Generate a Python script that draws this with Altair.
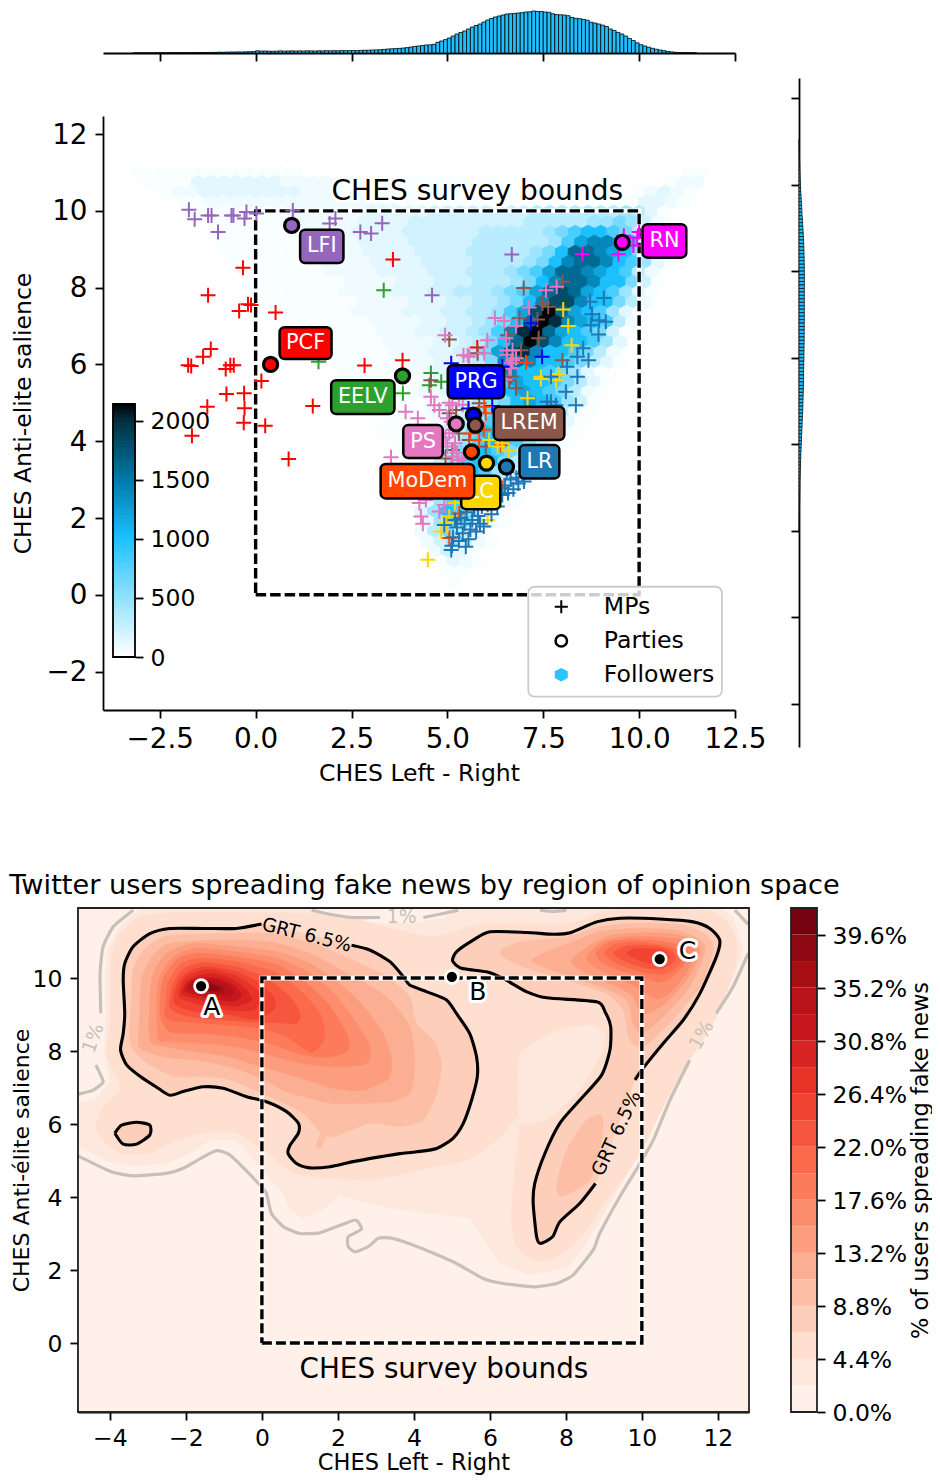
import altair as alt
import numpy as np
import pandas as pd

W, H = 924, 1468
FONT = "DejaVu Sans"

# ---------- panel scales ----------
MX_DOM, MX_RNG = [-3.98, 12.5], [95, 727]
MY_DOM, MY_RNG = [-3.0, 12.47], [702, 108]
RY_DOM, RY_RNG = [-2.993, 12.462], [739, 70]
RX_DOM, RX_RNG = [0, 10], [791, 801]
TY_DOM, TY_RNG = [0, 42], [45, 3]
BX_DOM, BX_RNG = [-4.84, 12.82], [70, 741]
BY_DOM, BY_RNG = [-1.89, 11.92], [1404, 900]


def sc(dom, rng):
    return alt.Scale(domain=dom, range=rng, nice=False, zero=False)


def qx(f, dom, rng, axis=None):
    return alt.X(f, type="quantitative", scale=sc(dom, rng), axis=axis, title=None if axis is None else axis.to_dict().get("title"))


def qy(f, dom, rng, axis=None):
    return alt.Y(f, type="quantitative", scale=sc(dom, rng), axis=axis, title=None if axis is None else axis.to_dict().get("title"))


def mx(f, axis=None):
    return qx(f, MX_DOM, MX_RNG, axis)


def my(f, axis=None):
    return qy(f, MY_DOM, MY_RNG, axis)


def bx(f, axis=None):
    return qx(f, BX_DOM, BX_RNG, axis)


def by(f, axis=None):
    return qy(f, BY_DOM, BY_RNG, axis)


def ax(**kw):
    base = dict(domainColor="black", tickColor="black", labelColor="black", titleColor="black",
                labelFont=FONT, titleFont=FONT, grid=False, labelOverlap=False, labelFlush=False,
                titleFontWeight="normal", domainWidth=1.8, tickWidth=1.8, tickSize=8, labelPadding=6)
    base.update(kw)
    return alt.Axis(**base)


# ---------- top histogram of followers (bins of 0.1 from -4.0) ----------
TOP_HIST = [0, 0, 0, 0, 0, 0, 0, 0, .1, .1,
            .1, .1, .1, .1, .2, .2, .2, .2, .3, .3,
            .3, .4, .3, .4, .5, .4, .5, .5, .6, .6,
            .8, .7, .9, 1, 1, 1.1, 1, 1.2, 1.3, 1.4,
            2.2, 1.9, 2, 1.8, 1.7, 1.8, 2.1, 1.9, 2, 2.1,
            2, 2.1, 2, 2.2, 2.1, 2, 2.2, 2.1, 2.3, 2.2,
            2.3, 2.2, 2.4, 2.3, 2.4, 2.5, 2.4, 2.6, 2.7, 2.8,
            3, 3.1, 3.3, 3.6, 4, 4.2, 4.4, 4.6, 5, 5.4,
            6, 6.6, 7, 7.5, 8, 8.2, 8.6, 10.7, 12, 13.4,
            15, 17, 19, 20.5, 22, 24, 26, 27.5, 29, 31,
            33, 34.5, 36, 37, 38, 39, 39.3, 39.6, 40, 40.3,
            41, 41.2, 42, 41.6, 41.5, 41, 40.7, 39.2, 38.4, 38.2,
            38, 37.3, 35.5, 34.7, 34.3, 33.6, 32.8, 30.7, 30, 29,
            27.8, 26.5, 24, 22.5, 20.6, 19, 17, 14.5, 12.4, 10.2,
            8.3, 7, 5.8, 4.7, 3.8, 3, 2.3, 1.6, 1.1, .7,
            .5, .4, .3, .2, .1]
# ---------- right histogram (bins of 0.08 going down from 11.04) ----------
RIGHT_HIST = [.2, .2, .3, .3, .4, .5, .6, .7, .8,
              1, 1.1, 1.2, 1.4, 1.5, 1.7,
              1.9, 2.1, 2.3, 2.5, 2.7, 2.9, 3, 3.3, 3.5,
              3.7, 3.9, 4.1, 4.3, 4.5, 4.6, 4.8, 4.9, 5.0,
              5.1, 5.2, 5.2, 5.3, 5.3, 5.4, 5.4, 5.4, 5.4, 5.4, 5.3,
              5.4, 5.3, 5.4, 5.3, 5.3, 5.3, 5.4, 5.3, 5.3, 5.2, 5.3, 5.2, 5.2, 5.2,
              5.1, 5.1, 5, 5, 4.9, 4.9, 4.8, 4.7, 4.7, 4.6, 4.6, 4.5, 4.5, 4.4,
              4.3, 4.2, 4.1, 4, 3.9, 3.8, 3.7, 3.5, 3.4,
              3.2, 3.1, 2.9, 2.8, 2.6, 2.5, 2.4,
              2.2, 2.1, 1.9, 1.8, 1.7, 1.5, 1.4,
              1.3, 1.2, 1.1, 1, .9, .9, .8, .7, .7,
              .6, .5, .5, .4, .3, .3, .2, .2, .1]

# ---------- hexbin: (y, first column, level codes); column step 1/3 from x=-4 ----------
HEX_LEVELS = {"1": 25, "2": 70, "3": 130, "4": 210, "5": 310, "6": 430, "7": 600, "8": 800, "9": 1000,
              "a": 1200, "b": 1400, "c": 1600, "d": 1800, "e": 2000, "f": 2130}
HEX_ROWS = [
    (0, 11.00, 3, "1111111111111"), (0, 11.00, 46, "11"),
    (1, 10.74, 3, "1111 3333333 22222 111111111111"), (1, 10.74, 44, "122"),
    (2, 10.48, 5, "1 22 33333333 222 11111111"), (2, 10.48, 42, "12321"),
    (3, 10.22, 6, "11 22222 22222 22222 111111 1111111111111 332 1"),
    (4, 9.96, 7, "11111111 222222 33333 44444444 5555555 6 5 3 1"),
    (5, 9.70, 8, "1111111 22222 3333 4444444 4455 555 667 6 4 2 1"),
    (6, 9.44, 9, "1111111 2222 3333 444444 55555 6 7 899 8 7 5 3 1"),
    (7, 9.18, 9, "1111111 2222 3333 44444 555555 6 8 a bb a 9 7 4 2"),
    (8, 8.92, 10, "111111 22222 3333 4444 55555 6 7 9 ccb a 9 7 4 1"),
    (9, 8.66, 10, "1111111 2222 3333 4444 5555 6 7 9 b cc b 9 8 6 3 1"),
    (10, 8.40, 11, "1111111 2222 3333 444 555 6 7 8 a ccb a 9 8 5 2"),
    (11, 8.14, 11, "11111111 2222 333 444 555 6 7 9 bcc b 99 7 4 1"),
    (12, 7.88, 12, "1111111 2222 333 44 555 6 7 8 a cd c a 98 6 3 1"),
    (13, 7.62, 13, "1111111 2222 333 44 55 6 7 9 b dd b 99 7 5 2"),
    (14, 7.36, 14, "111111 2222 333 44 55 6 8 a d f c a 98 6 3 1"),
    (15, 7.10, 15, "111111 2222 33 44 5 6 7 9 c f e b a 9 8 5 2"),
    (16, 6.84, 15, "1111111 222 33 44 5 6 8 b e f c a 98 7 4 1"),
    (17, 6.58, 16, "111111 2222 33 4 5 7 9 c f d b 9 98 6 3"),
    (18, 6.32, 17, "111111 222 33 4 5 7 a d e b 99 8 7 5 2"),
    (19, 6.06, 18, "111111 22 33 45 7 b c b 99 8 7 5 3 1"),
    (20, 5.80, 19, "11111 22 33 4 6 9 b b 9 98 7 6 3 1"),
    (21, 5.54, 19, "111111 22 3 4 5 6 8 a 9 9 8 7 5 3 1"),
    (22, 5.28, 20, "11111 22 3 4 5 6 7 9 a 9 8 7 5 2 1"),
    (23, 5.02, 21, "11111 2 3 4 5 6 7 9 a 9 8 6 4 1"),
    (24, 4.76, 21, "11111 2 3 4 5 7 9 9 9 8 7 5 2 1"),
    (25, 4.50, 22, "1111 2 3 5 6 8 9 9 8 7 5 3 1"),
    (26, 4.24, 22, "1111 2 4 5 7 9 9 8 7 6 4 2 1"),
    (27, 3.98, 23, "111 3 4 6 8 9 9 8 6 4 2 1"),
    (28, 3.72, 23, "111 3 5 7 9 9 8 7 5 3 1"),
    (29, 3.46, 24, "1 2 4 6 8 9 9 7 5 3 1"),
    (30, 3.20, 24, "1 3 4 7 9 9 8 6 4 2 1"),
    (31, 2.94, 24, "1 3 5 7 9 9 7 5 3 1"),
    (32, 2.68, 24, "2 3 5 8 9 8 6 3 1"),
    (33, 2.42, 24, "1 3 6 8 9 7 5 2 1"),
    (34, 2.16, 25, "3 6 9 8 6 3 1"),
    (35, 1.90, 25, "3 6 8 7 4 2 1"),
    (36, 1.64, 25, "2 5 7 5 3 1"),
    (37, 1.38, 25, "2 4 6 4 2 1"),
    (38, 1.12, 26, "2 4 3 1"),
    (39, 0.86, 26, "1 3 2 1"),
    (40, 0.60, 27, "11"),
    (41, 0.34, 27, "1"),
]
CMAP_DOM = [0, 500, 1000, 1500, 2000, 2140]
CMAP_RNG = ["#ffffff", "#8fe1ff", "#1cc0ff", "#0079a8", "#032e3f", "#000000"]

# ---------- MPs ----------
MP = {
    "#9467bd": [(-1.74, 10.03), (-1.59, 9.78), (-1.24, 9.88), (-1.15, 9.88), (-.63, 9.88), (-.58, 9.88), (-.98, 9.45),
                (-.24, 9.97), (-.29, 9.8), (.02, 9.93), (.97, 10.01), (1.93, 9.67), (2.08, 9.8), (2.73, 9.45),
                (3.01, 9.41), (3.3, 9.68), (6.68, 8.86), (4.6, 7.8)],
    "#ff0000": [(-.33, 8.52), (-1.24, 7.8), (-.43, 7.39), (-.2, 7.57), (-.12, 7.55), (.52, 7.35), (-1.17, 6.4),
                (-1.37, 6.2), (-1.76, 5.98), (-1.68, 5.96), (-.78, 5.88), (-.66, 5.98), (-.57, 5.98), (.15, 5.57),
                (-.76, 5.23), (-.3, 5.25), (-1.26, 4.9), (-.29, 4.86), (-.31, 4.48), (.25, 4.4), (-1.66, 4.14),
                (1.49, 4.92), (2.84, 5.97), (3.58, 8.73), (.86, 3.54), (3.83, 6.11), (5.78, 6.44)],
    "#2ca02c": [(3.34, 7.93), (1.64, 6.07), (3.84, 5.25), (4.57, 5.78), (4.84, 5.55), (4.53, 5.46)],
    "#8c564b": [(5.05, 6.65), (6.99, 7.99), (8.0, 8.15), (7.48, 7.59), (7.63, 7.5), (6.88, 7.2), (7.35, 7.17),
                (7.38, 6.68), (6.57, 6.76), (6.92, 6.37), (5.79, 6.29), (8.0, 6.11), (6.66, 5.68), (4.57, 5.59),
                (6.79, 5.38), (6.61, 5.59), (5.13, 3.77), (5.05, 4.73), (5.23, 4.81), (6.0, 3.86), (5.83, 4.99),
                (5.57, 4.03), (5.3, 4.2), (4.95, 3.55)],
    "#e377c2": [(4.94, 6.76), (6.04, 6.63), (6.24, 7.21), (6.48, 7.13), (6.79, 7.0), (7.13, 7.48), (7.57, 7.93),
                (7.85, 8.02), (5.42, 6.24), (5.57, 6.2), (5.96, 6.29), (6.53, 6.68), (6.55, 6.36), (6.7, 6.37),
                (6.79, 6.16), (6.66, 6.03), (6.61, 5.9), (3.91, 4.77), (4.23, 4.6), (3.53, 3.58), (4.57, 5.16),
                (4.66, 4.94), (4.79, 4.81), (4.27, 2.39), (4.44, 2.47), (4.31, 2.04), (4.36, 1.85), (4.79, 2.17),
                (4.92, 2.34), (5.05, 4.21), (5.0, 3.86), (5.14, 3.6), (5.27, 3.51), (5.1, 4.51), (5.53, 6.24),
                (6.7, 6.11), (6.66, 5.9), (5.13, 4.94), (5.05, 5.0), (5.0, 4.6), (5.15, 4.3), (5.2, 3.95),
                (4.95, 4.1), (5.25, 3.7), (5.4, 3.55), (5.3, 5.1), (5.4, 4.95), (5.1, 3.3), (6.5, 5.6), (6.55, 6.25)],
    "#0000ff": [(7.18, 7.07), (7.47, 6.2), (5.1, 6.03), (6.43, 5.94), (6.17, 4.92), (5.55, 4.85)],
    "#ff4500": [(7.05, 6.05), (5.96, 4.9), (5.83, 4.03), (6.4, 3.9), (5.05, 1.48), (5.31, 2.12), (6.0, 4.73),
                (6.44, 2.78), (5.6, 4.2), (5.95, 4.3)],
    "#ffd700": [(8.02, 7.43), (8.15, 7.0), (8.24, 6.5), (7.44, 5.68), (7.92, 5.75), (7.44, 5.62), (7.83, 5.59),
                (7.09, 5.12), (4.49, .91), (4.84, 1.65), (4.97, 1.87), (6.05, 1.95), (6.31, 3.86), (6.09, 4.03),
                (6.43, 3.95), (5.05, 2.04), (6.6, 3.75), (5.2, 2.4)],
    "#1f77b4": [(8.72, 7.63), (9.08, 7.73), (8.77, 7.31), (8.74, 7.02), (8.96, 7.15), (9.13, 7.11), (8.94, 6.78),
                (8.54, 6.42), (8.39, 6.2), (8.68, 6.11), (8.12, 5.94), (8.39, 5.68), (7.7, 5.68), (8.09, 5.29),
                (8.35, 4.94), (7.7, 5.03), (7.6, 5.03), (7.83, 4.94), (5.1, 1.17), (4.92, 1.82), (5.15, 1.5),
                (5.25, 1.75), (5.3, 1.4), (5.35, 2.0), (5.4, 1.6), (5.45, 1.85), (5.5, 2.15), (5.55, 1.45),
                (5.6, 1.7), (5.65, 1.95), (5.7, 2.25), (5.75, 1.65), (5.8, 2.05), (5.85, 1.85), (5.9, 2.3),
                (5.2, 1.95), (5.12, 1.28), (5.48, 1.25), (5.95, 1.78), (6.05, 2.35), (6.15, 2.1), (6.2, 2.5),
                (6.3, 2.3), (6.43, 2.6), (6.5, 2.85), (6.58, 2.65), (6.65, 3.0), (6.72, 2.75), (6.8, 3.05),
                (6.85, 2.9), (6.95, 3.15), (7.0, 2.95), (7.05, 3.3), (6.55, 3.2)],
    "#ff00ff": [(9.6, 9.35), (9.95, 9.3), (8.52, 8.87), (9.46, 8.87), (10.0, 9.45), (9.85, 9.1)],
}
PARTY_X = [.39, .94, 3.83, 5.23, 5.68, 5.73, 5.63, 6.02, 6.54, 9.56]
PARTY_Y = [6.0, 9.62, 5.7, 4.45, 4.68, 4.42, 3.72, 3.43, 3.33, 9.18]
PARTY_C = ["#ff0000", "#9467bd", "#2ca02c", "#e377c2", "#0000ff", "#8c564b", "#ff4500", "#ffd700", "#1f77b4", "#ff00ff"]
LABELS = [  # text, x0, x1, y0, y1, colour
    ("LC", 5.36, 6.38, 2.23, 3.10, "#ffd700"),
    ("PCF", .625, 1.98, 6.14, 6.97, "#ff0000"),
    ("LFI", 1.16, 2.29, 8.64, 9.51, "#9467bd"),
    ("EELV", 1.97, 3.62, 4.71, 5.59, "#2ca02c"),
    ("PS", 3.85, 4.88, 3.56, 4.42, "#e377c2"),
    ("PRG", 5.01, 6.48, 5.12, 5.98, "#0000ff"),
    ("LREM", 6.21, 8.05, 4.03, 4.90, "#8c564b"),
    ("LR", 6.88, 7.92, 3.03, 3.90, "#1f77b4"),
    ("MoDem", 3.26, 5.70, 2.51, 3.41, "#ff4500"),
    ("RN", 10.09, 11.23, 8.78, 9.65, "#ff00ff"),
]
BOUND_X = [0, 10, 10, 0, 0]
BOUND_Y = [0, 0, 10, 10, 0]

# ---------- lower panel: filled contour outlines ----------
GRT_MAIN = [(2.36, 10.9), (2.84, 10.77), (3.37, 10.45), (3.72, 10.04), (3.89, 9.81), (4.33, 9.63), (4.86, 9.4),
            (5.12, 9.03), (5.47, 8.48), (5.65, 7.84), (5.67, 7.3), (5.52, 6.66), (5.3, 6.02), (5.03, 5.61), (4.6, 5.33),
            (4.07, 5.24), (3.63, 5.19), (3.1, 5.1), (2.4, 4.97), (1.79, 4.83), (1.26, 4.8), (.91, 4.92), (.69, 5.19),
            (.74, 5.42), (.96, 5.75), (.96, 6.02), (.65, 6.34), (.12, 6.61), (-.4, 6.75), (-1.02, 6.98), (-1.54, 7.02),
            (-2.07, 6.89), (-2.42, 6.79), (-2.73, 6.98), (-3.2, 7.3), (-3.56, 7.62), (-3.72, 8.03), (-3.65, 8.48),
            (-3.61, 9.03), (-3.65, 9.95), (-3.61, 10.4), (-3.39, 10.86), (-2.95, 11.22), (-2.42, 11.36), (-1.54, 11.36),
            (-.67, 11.36), (-.01, 11.48)]
GRT_BLOB = [(-3.87, 5.75), (-3.69, 5.97), (-3.3, 6.05), (-2.95, 5.97), (-2.95, 5.7), (-3.3, 5.45), (-3.65, 5.45), (-3.87, 5.75)]
GRT_RIGHT = [(9.82, 7.21), (10.03, 7.53), (10.56, 8.21), (11.09, 8.85), (11.53, 9.58), (11.96, 10.58), (12.05, 11.04),
             (11.79, 11.36), (11.35, 11.54), (10.47, 11.62), (9.42, 11.64), (8.81, 11.54), (8.11, 11.24), (7.67, 11.2),
             (6.96, 11.25), (6.0, 11.27), (5.56, 11.04), (5.12, 10.72), (5.02, 10.47), (5.25, 10.27), (5.91, 10.17),
             (6.35, 9.99), (6.96, 9.63), (7.49, 9.46), (8.81, 9.35), (9.03, 9.08), (9.18, 8.67), (9.16, 8.03), (8.94, 7.34),
             (8.37, 6.66), (7.84, 6.02), (7.45, 5.2), (7.18, 4.37), (7.14, 3.83), (7.23, 2.91), (7.33, 2.73), (7.65, 2.91),
             (7.84, 3.32), (8.37, 3.83), (8.78, 4.37)]
P22 = [(-3.2, 11.92), (-3.75, 11.4), (-4.05, 10.8), (-4.12, 10.0), (-4.1, 9), (-4.15, 8), (-4.0, 7.15), (-4.35, 6.7),
       (-4.84, 6.55), (-4.84, 5.4), (-4.0, 4.95), (-3.4, 4.85), (-2.5, 4.92), (-1.9, 5.2), (-1.37, 5.56), (-.67, 5.56),
       (-.14, 4.92), (.56, 4.1), (.74, 3.65), (1.09, 3.42), (1.61, 3.65), (2.05, 4.05), (3.37, 3.69), (5.47, 3.42),
       (5.91, 2.73), (6.26, 2.18), (7.05, 1.86), (8.02, 2.05), (8.54, 2.73), (9.07, 3.67), (9.77, 4.92), (10.39, 6.11),
       (10.91, 7.3), (11.7, 8.67), (12.4, 9.95), (12.67, 10.77), (12.4, 11.68), (12.05, 11.92), (8.2, 11.92), (7.7, 11.72),
       (7.2, 11.92), (5.3, 11.92), (4.8, 11.65), (4, 11.5), (2.4, 11.5), (1.7, 11.65), (1.2, 11.92)]
P44 = [(-4.31, 6.16), (-4.35, 5.84), (-4.09, 5.47), (-3.65, 5.19), (-3.03, 5.19), (-2.33, 5.52), (-1.54, 5.75), (-.67, 5.75),
       (.21, 5.19), (.56, 4.83), (1.09, 4.6), (2.84, 4.47), (4.16, 4.74), (4.51, 4.83), (5.39, 5.01), (6.18, 5.56), (6.79, 6.2),
       (6.66, 4.83), (6.57, 3.46), (6.7, 2.64), (7.32, 2.23), (7.93, 2.46), (8.54, 3.1), (8.89, 3.64), (9.95, 5.19),
       (10.47, 6.29), (11.09, 7.48), (11.96, 8.94), (12.49, 10.49), (12.4, 11.31), (11.96, 11.77), (11.35, 11.88), (9.25, 11.88),
       (8.11, 11.5), (6.96, 11.48), (5.91, 11.5), (5.12, 11.31), (4.51, 11.13), (3.63, 11.31), (2.4, 11.63), (1.35, 11.77),
       (.03, 11.79), (-2.42, 11.79), (-3.2, 11.68), (-3.74, 11.22), (-3.96, 10.58), (-4.0, 9.49), (-4.0, 8.67), (-4.09, 7.94),
       (-3.87, 7.39), (-3.74, 6.93), (-4.18, 6.48)]
HOLE = [(6.86, 8.0), (7.75, 8.55), (8.62, 8.7), (9.0, 8.5), (8.95, 8.0), (8.4, 7.0), (7.6, 6.2), (6.85, 6.0), (6.75, 6.6), (6.75, 7.3)]
L88A = [(-3.49, 8.48), (-3.43, 9.4), (-3.39, 10.22), (-3.08, 10.81), (-2.51, 11.15), (-1.11, 11.22), (.21, 11.22), (1.35, 10.95),
        (2.4, 10.49), (3.28, 10.04), (3.89, 9.49), (4.07, 8.76), (4.51, 8.3), (4.73, 7.66), (4.6, 6.84), (4.25, 6.11), (3.63, 5.93),
        (2.84, 6.02), (1.88, 5.65), (1.53, 5.79), (1.09, 6.29), (.21, 6.75), (-.84, 7.21), (-1.54, 7.3), (-2.25, 7.3), (-2.95, 7.62), (-3.39, 8.03)]
L88B = [(7.75, 4.28), (8.02, 5.29), (8.54, 6.11), (8.94, 6.25), (8.97, 5.75), (8.81, 5.01), (8.63, 4.47), (7.93, 4.01)]
L88C = [(6.31, 10.77), (6.79, 10.99), (8.02, 11.13), (8.89, 11.4), (9.77, 11.5), (11.09, 11.45), (11.7, 11.18), (11.88, 10.77),
        (11.53, 9.76), (10.65, 8.67), (10.03, 8.12), (9.68, 8.3), (9.51, 9.12), (9.07, 9.58), (8.02, 9.95), (6.96, 10.27), (6.35, 10.58)]
L88D = [(1.42, 5.4), (1.55, 5.72), (1.68, 5.65), (1.55, 5.35)]
L110A = [(-3.25, 8.39), (-3.21, 9.01), (-3.17, 9.95), (-2.9, 10.58), (-2.42, 10.95), (-1.11, 11.04), (.21, 10.99), (1.26, 10.68),
         (2.23, 10.13), (3.28, 9.49), (3.89, 8.67), (4.03, 7.66), (3.89, 6.84), (3.37, 6.61), (2.67, 6.57), (1.79, 6.57), (.65, 6.89),
         (-.01, 7.25), (-.84, 7.57), (-1.72, 7.75), (-2.6, 7.84), (-3.21, 8.07)]
L110B = [(7.1, 10.49), (7.58, 10.77), (8.19, 10.99), (8.89, 11.27), (9.77, 11.36), (10.91, 11.31), (11.53, 11.04), (11.66, 10.72),
         (11.26, 9.76), (10.56, 8.94), (9.99, 8.48), (9.77, 8.76), (9.6, 9.4), (8.98, 9.74), (8.02, 10.08), (7.4, 10.31)]
L132A = [(-2.95, 8.3), (-2.95, 9.4), (-2.86, 10.13), (-2.51, 10.68), (-1.81, 10.95), (-.67, 10.86), (.39, 10.72), (1.26, 10.4),
         (2.05, 9.85), (2.67, 9.23), (3.19, 8.48), (3.41, 7.75), (3.32, 7.24), (2.67, 6.93), (1.88, 6.98), (.91, 7.3), (-.01, 7.57),
         (-.84, 7.84), (-1.72, 7.98), (-2.51, 8.12)]
L132B = [(8.15, 10.49), (8.63, 10.9), (9.25, 11.18), (10.12, 11.24), (11.0, 11.18), (11.44, 10.95), (11.53, 10.68), (11.18, 9.95),
         (10.56, 9.26), (10.03, 9.03), (9.73, 9.53), (9.07, 9.9), (8.37, 10.22)]
L154A = [(-2.73, 8.35), (-2.77, 9.4), (-2.68, 10.04), (-2.33, 10.58), (-1.72, 10.81), (-.67, 10.72), (.39, 10.54), (1.26, 10.13),
         (1.97, 9.49), (2.49, 8.76), (2.84, 8.12), (2.76, 7.66), (1.97, 7.57), (1.09, 7.66), (.21, 7.89), (-.67, 8.12), (-1.54, 8.21), (-2.51, 8.26)]
L154B = [(8.54, 10.58), (8.89, 10.95), (9.42, 11.11), (10.3, 11.13), (11.09, 11.04), (11.39, 10.77), (11.26, 10.31), (10.82, 9.67),
         (10.39, 9.44), (9.77, 9.81), (9.16, 10.08), (8.68, 10.36)]
L176A = [(-2.68, 9.03), (-2.6, 9.95), (-2.25, 10.49), (-1.72, 10.68), (-.67, 10.58), (.39, 10.36), (1.18, 9.85), (1.79, 9.23), (2.23, 8.48),
         (2.27, 8.03), (1.79, 7.84), (1.09, 7.89), (.21, 8.21), (-.67, 8.39), (-1.54, 8.48), (-2.42, 8.53)]
L176B = [(8.81, 10.72), (9.16, 10.99), (9.77, 11.06), (10.65, 10.99), (11.18, 10.81), (11.13, 10.4), (10.74, 9.99), (10.39, 9.9), (9.77, 10.11),
         (9.25, 10.27), (8.89, 10.49)]
L198A = [(-2.55, 9.01), (-2.47, 9.85), (-2.16, 10.36), (-1.63, 10.54), (-.67, 10.45), (.3, 10.17), (1.0, 9.67), (1.53, 9.03), (1.66, 8.48),
         (1.53, 8.12), (1.26, 7.98), (.65, 8.39), (.03, 8.62), (-.84, 8.71), (-1.72, 8.78), (-2.33, 8.83)]
L198B = [(9.03, 10.68), (9.25, 10.9), (9.77, 10.99), (10.56, 10.9), (11.0, 10.72), (11.0, 10.4), (10.65, 10.13), (10.3, 10.11), (9.68, 10.27), (9.25, 10.45)]
L220A = [(-2.42, 9.21), (-2.33, 9.85), (-2.03, 10.27), (-1.54, 10.42), (-.67, 10.31), (.12, 9.99), (.74, 9.49), (1.0, 9.03), (.91, 8.76), (.39, 8.78),
         (-.32, 8.8), (-1.19, 8.87), (-2.07, 8.99)]
L220B = [(9.25, 10.68), (9.6, 10.88), (10.39, 10.88), (10.82, 10.72), (10.87, 10.49), (10.56, 10.27), (10.12, 10.27), (9.6, 10.45)]
L242A = [(-2.33, 9.4), (-2.2, 9.9), (-1.94, 10.17), (-1.46, 10.31), (-.67, 10.17), (-.05, 9.85), (.3, 9.49), (.34, 9.17), (-.14, 8.87), (-.84, 8.99),
         (-1.72, 9.08), (-2.16, 9.21)]
L242B = [(9.6, 10.68), (9.86, 10.81), (10.56, 10.77), (10.74, 10.54), (10.47, 10.4), (10.03, 10.45)]
L264 = [(-2.2, 9.53), (-2.07, 9.95), (-1.81, 10.13), (-1.37, 10.24), (-.67, 10.05), (-.18, 9.72), (-.01, 9.4), (-.23, 9.12), (-.84, 9.12), (-1.54, 9.26), (-2.03, 9.4)]
L286 = [(-2.11, 9.58), (-1.98, 9.9), (-1.72, 10.05), (-1.28, 10.13), (-.75, 9.95), (-.4, 9.67), (-.27, 9.4), (-.67, 9.23), (-1.28, 9.31), (-1.81, 9.47)]
L308 = [(-2.03, 9.67), (-1.89, 9.9), (-1.63, 10.0), (-1.19, 10.0), (-.75, 9.81), (-.53, 9.53), (-.75, 9.37), (-1.28, 9.44), (-1.76, 9.55)]
L330 = [(-1.94, 9.74), (-1.81, 9.92), (-1.46, 9.96), (-1.11, 9.93), (-.8, 9.72), (-.8, 9.51), (-1.28, 9.53), (-1.72, 9.65)]
L352 = [(-1.88, 9.78), (-1.72, 9.88), (-1.37, 9.9), (-1.06, 9.78), (-1.0, 9.6), (-1.28, 9.62), (-1.68, 9.69)]
L374 = [(-1.81, 9.78), (-1.59, 9.85), (-1.28, 9.81), (-1.11, 9.69), (-1.37, 9.65), (-1.68, 9.72)]

BG = "#fff1ea"
BAND_COLORS = [BG, "#fee8dd", "#fedfd0", "#fdcfbb", "#fcbfa6", "#fcae92", "#fc9d7e", "#fc8d6d", "#fb7b5b", "#fb6a4a",
               "#f6563d", "#f14331", "#e63328", "#d72322", "#c7171c", "#b71319", "#a70f15", "#8e0912", "#74030f"]
FILLS = [
    (P44, 2), (HOLE, 1), (GRT_MAIN, 3), (GRT_BLOB, 3), (GRT_RIGHT, 3),
    (L88A, 4), (L88B, 4), (L88C, 4), (L88D, 4), (L110A, 5), (L110B, 5), (L132A, 6), (L132B, 6), (L154A, 7), (L154B, 7),
    (L176A, 8), (L176B, 8), (L198A, 9), (L198B, 9), (L220A, 10), (L220B, 10), (L242A, 11), (L242B, 11), (L264, 12), (L286, 13),
    (L308, 14), (L330, 15), (L352, 16), (L374, 17),
]

GREY_SEGS = [
    [(-3.39, 11.86), (-3.91, 11.41), (-4.18, 10.86), (-4.26, 10.13), (-4.24, 9.03)],
    [(-4.37, 7.62), (-4.18, 7.16), (-4.44, 6.93), (-4.83, 6.82)],
    [(1.31, 11.86), (1.79, 11.75), (2.4, 11.66), (3.11, 11.66)],
    [(4.25, 11.66), (4.77, 11.77), (5.17, 11.86)],
    [(7.32, 11.86), (7.67, 11.82), (8.02, 11.86)],
    [(12.45, 11.86), (12.8, 11.47)],
    [(12.8, 10.68), (12.4, 9.76), (11.96, 9.03)],
    [(11.26, 7.75), (10.74, 6.66), (10.3, 5.56), (9.95, 4.92), (9.42, 4.01), (8.89, 3.0), (8.72, 2.55), (8.19, 1.86), (7.75, 1.63),
     (7.14, 1.54), (6.35, 1.63), (5.82, 1.77), (5.12, 2.18), (4.42, 2.5), (3.72, 2.78), (3.37, 2.88), (3.06, 2.87), (2.8, 2.64),
     (2.45, 2.5), (2.27, 2.64), (2.27, 2.91), (2.62, 3.12), (2.47, 3.37), (1.97, 3.19), (1.53, 3.02), (1.0, 3.0), (.56, 3.19),
     (.25, 3.55), (.12, 4.1), (-.05, 4.33), (-.84, 5.15), (-1.19, 5.27), (-1.54, 5.1), (-2.07, 4.79), (-2.51, 4.65), (-3.39, 4.58),
     (-3.96, 4.69), (-4.83, 5.12)],
]
ONE_PCT = [(3.68, 11.67, 0), (-4.44, 8.35, 290), (11.57, 8.44, 300)]
GRT_TXT = [(1.18, 11.18, 14), (9.33, 5.75, 295)]
POINTS_ABC = [(-1.6, 9.78), (5.0, 10.03), (10.47, 10.52)]
LETTERS = [("A", -1.32, 9.2), ("B", 5.68, 9.62), ("C", 11.2, 10.74)]
PCT_TICKS = [0, 4.4, 8.8, 13.2, 17.6, 22.0, 26.4, 30.8, 35.2, 39.6]

# ---------- build ----------
layers = []
CROSS = "M-1,0H1M0,-1V1"
HEXP = "M0,-1L0.97,-0.5L0.97,0.5L0,1L-0.97,0.5L-0.97,-0.5Z"

# top histogram
top = pd.DataFrame({"x0": -4 + 0.1 * np.arange(len(TOP_HIST)), "h": TOP_HIST})
top["x1"] = top.x0 + 0.1
top["b"] = 0
top = top[top.h > 0]
layers.append(alt.Chart(top).mark_rect(fill="#1fbfff", stroke="black", strokeWidth=0.8).encode(
    x=mx("x0", ax(values=[-2.5, 0, 2.5, 5, 7.5, 10, 12.5], labels=False, orient="bottom", offset=45 - H, title=None)),
    x2="x1",
    y=qy("h", TY_DOM, TY_RNG), y2="b"))

# right histogram
right = pd.DataFrame({"y0": 11.04 - 0.08 * np.arange(len(RIGHT_HIST)), "w": RIGHT_HIST})
right["y1"] = right.y0 - 0.08
right["b"] = 0
layers.append(alt.Chart(right).mark_rect(fill="#1fbfff", stroke="black", strokeWidth=0.7).encode(
    y=qy("y0", RY_DOM, RY_RNG, ax(values=list(range(-2, 13, 2)), labels=False, orient="left", offset=-791, title=None)),
    y2="y1",
    x=qx("w", RX_DOM, RX_RNG), x2="b"))

# hexbin
hx = []
for k, y, c0, s in HEX_ROWS:
    s = s.replace(" ", "")
    for j, ch in enumerate(s):
        hx.append({"x": -4 + (c0 + j + (k % 2) * 0.5) / 3, "y": y, "n": HEX_LEVELS[ch]})
hx = pd.DataFrame(hx)
cscale = alt.Scale(domain=CMAP_DOM, range=CMAP_RNG, interpolate="rgb")
layers.append(alt.Chart(hx).mark_point(shape=HEXP, filled=True, size=205, opacity=1, strokeWidth=0.8).encode(
    x=mx("x", ax(values=[-2.5, 0, 2.5, 5, 7.5, 10, 12.5], format=".1f", orient="bottom", offset=702 - H, labelFontSize=27.8,
                 titleFontSize=23.5, title="CHES Left - Right", titlePadding=9, labelPadding=7)),
    y=my("y", ax(values=list(range(-2, 13, 2)), orient="left", offset=-95, labelFontSize=27.8, titleFontSize=23.5,
                 title="CHES Anti-elite salience", titlePadding=11, labelPadding=8, labelOffset=1)),
    fill=alt.Fill("n:Q", scale=cscale, legend=None),
    stroke=alt.Stroke("n:Q", scale=cscale, legend=None)))

# bounds (main)
bnd = pd.DataFrame({"x": BOUND_X, "y": BOUND_Y, "i": range(5)})
layers.append(alt.Chart(bnd).mark_line(color="white", strokeWidth=4.6).encode(x=mx("x"), y=my("y"), order="i:Q"))
layers.append(alt.Chart(bnd).mark_line(color="black", strokeWidth=3.4, strokeDash=[10.5, 4]).encode(x=mx("x"), y=my("y"), order="i:Q"))

# MPs
mp = pd.DataFrame([{"x": x, "y": y, "c": c} for c, pts in MP.items() for x, y in pts])
layers.append(alt.Chart(mp).mark_point(shape=CROSS, size=225, strokeWidth=2, filled=False, opacity=1).encode(
    x=mx("x"), y=my("y"), stroke=alt.Stroke("c:N", scale=None)))

# titles in main
ttl = pd.DataFrame({"x": [5.78], "y": [10.48], "t": ["CHES survey bounds"]})
tm = dict(fontSize=28.1, font=FONT, align="center", baseline="middle")
layers.append(alt.Chart(ttl).mark_text(stroke="white", strokeWidth=5, **tm).encode(x=mx("x"), y=my("y"), text="t:N"))
layers.append(alt.Chart(ttl).mark_text(fill="black", **tm).encode(x=mx("x"), y=my("y"), text="t:N"))

# parties
pt = pd.DataFrame({"x": PARTY_X, "y": PARTY_Y, "c": PARTY_C})
layers.append(alt.Chart(pt).mark_point(shape="circle", filled=True, size=200, stroke="black", strokeWidth=3.2, opacity=1).encode(
    x=mx("x"), y=my("y"), fill=alt.Fill("c:N", scale=None)))

# party label boxes
lab = pd.DataFrame(LABELS, columns=["t", "x0", "x1", "y0", "y1", "c"])
lab["xm"] = (lab.x0 + lab.x1) / 2
lab["ym"] = (lab.y0 + lab.y1) / 2
for sub in (lab.iloc[:1], lab.iloc[1:]):
    layers.append(alt.Chart(sub).mark_rect(cornerRadius=5, stroke="black", strokeWidth=2.5, opacity=1).encode(
        x=mx("x0"), x2="x1", y=my("y0"), y2="y1", fill=alt.Fill("c:N", scale=None)))
    layers.append(alt.Chart(sub).mark_text(color="white", fontSize=20.8, font=FONT, align="center", baseline="middle").encode(
        x=mx("xm"), y=my("ym"), text="t:N"))

# legend box
lbox = pd.DataFrame({"x0": [7.11], "x1": [12.16], "y0": [-2.65], "y1": [.21]})
layers.append(alt.Chart(lbox).mark_rect(cornerRadius=6, fill="white", fillOpacity=0.8, stroke="#cccccc", strokeWidth=1.8).encode(
    x=mx("x0"), x2="x1", y=my("y0"), y2="y1"))
leg = pd.DataFrame({"x": [7.97, 7.97, 7.97], "tx": [9.08, 9.08, 9.08], "y": [-.31, -1.2, -2.08], "t": ["MPs", "Parties", "Followers"]})
layers.append(alt.Chart(leg.iloc[[0]]).mark_point(shape=CROSS, size=170, stroke="black", strokeWidth=2, opacity=1).encode(x=mx("x"), y=my("y")))
layers.append(alt.Chart(leg.iloc[[1]]).mark_point(shape="circle", size=130, stroke="black", strokeWidth=2.5, opacity=1).encode(x=mx("x"), y=my("y")))
layers.append(alt.Chart(leg.iloc[[2]]).mark_point(shape=HEXP, filled=True, size=180, fill="#29c5ff", opacity=1).encode(x=mx("x"), y=my("y")))
layers.append(alt.Chart(leg).mark_text(fontSize=23.6, font=FONT, align="left", baseline="middle", color="black").encode(
    x=mx("tx"), y=my("y"), text="t:N"))

# main colourbar
CB_STEP = 20
cb = pd.DataFrame({"v0": np.arange(0, 2140, CB_STEP)})
cb["v1"] = cb.v0 + CB_STEP
cb["x0"], cb["x1"] = 0, 1
CBY_DOM, CBY_RNG = [0, 2140], [649, 396]
layers.append(alt.Chart(cb).mark_rect(strokeWidth=1).encode(
    x=qx("x0", [0, 1], [105, 127]), x2="x1", y=qy("v0", CBY_DOM, CBY_RNG), y2="v1",
    fill=alt.Fill("v0:Q", scale=cscale, legend=None),
    stroke=alt.Stroke("v0:Q", scale=cscale, legend=None)))
cbf = pd.DataFrame({"v0": [0], "v1": [2140], "x0": [0], "x1": [1]})
layers.append(alt.Chart(cbf).mark_rect(fillOpacity=0, stroke="black", strokeWidth=1.8).encode(
    x=qx("x0", [0, 1], [105, 127]), x2="x1",
    y=qy("v0", CBY_DOM, CBY_RNG, ax(values=[0, 500, 1000, 1500, 2000], orient="right", offset=127 - W, labelFontSize=23.5, domain=False,
                                    format="d", title=None, labelPadding=7, labelOffset=1)),
    y2="v1"))

# ---------- lower panel ----------
bgd = pd.DataFrame({"x0": [BX_DOM[0]], "x1": [BX_DOM[1]], "y0": [BY_DOM[0]], "y1": [BY_DOM[1]]})
layers.append(alt.Chart(bgd).mark_rect(fill=BG).encode(x=bx("x0"), x2="x1", y=by("y0"), y2="y1"))

p22 = pd.DataFrame([{"x": x, "y": y, "i": i} for i, (x, y) in enumerate(P22)])
layers.append(alt.Chart(p22).mark_line(interpolate="linear-closed", fill=BAND_COLORS[1], stroke=BAND_COLORS[1], strokeWidth=0.5).encode(
    x=bx("x"), y=by("y"), order="i:Q"))

rows = []
for p, (pts, lev) in enumerate(FILLS):
    for i, (x, y) in enumerate(pts):
        rows.append({"p": f"p{p:02d}", "i": i, "x": x, "y": y, "c": BAND_COLORS[lev]})
polys = pd.DataFrame(rows)
layers.append(alt.Chart(polys).mark_line(interpolate="cardinal-closed", tension=0.3, strokeWidth=0.6).encode(
    x=bx("x"), y=by("y"), order="i:Q", detail="p:N",
    fill=alt.Fill("c:N", scale=None), stroke=alt.Stroke("c:N", scale=None)))

# grey 1% contours
gr = pd.DataFrame([{"s": s, "i": i, "x": x, "y": y} for s, seg in enumerate(GREY_SEGS) for i, (x, y) in enumerate(seg)])
layers.append(alt.Chart(gr).mark_line(color="#c8c0b8", strokeWidth=3.2, interpolate="cardinal", tension=0.5).encode(
    x=bx("x"), y=by("y"), order="i:Q", detail="s:N"))

# black GRT contours (open at the labels)
bl = []
for s, seg in enumerate([GRT_MAIN, GRT_BLOB, GRT_RIGHT]):
    for i, (x, y) in enumerate(seg):
        bl.append({"s": s, "i": i, "x": x, "y": y})
layers.append(alt.Chart(pd.DataFrame(bl)).mark_line(color="black", strokeWidth=3.1, interpolate="cardinal", tension=0.3).encode(
    x=bx("x"), y=by("y"), order="i:Q", detail="s:N"))

# bounds (lower)
layers.append(alt.Chart(bnd).mark_line(color="white", strokeWidth=4.8).encode(x=bx("x"), y=by("y"), order="i:Q"))
layers.append(alt.Chart(bnd).mark_line(color="black", strokeWidth=3.4, strokeDash=[10, 4]).encode(x=bx("x"), y=by("y"), order="i:Q"))

# contour labels
one = pd.DataFrame(ONE_PCT, columns=["x", "y", "a"])
for _, r in one.iterrows():
    layers.append(alt.Chart(pd.DataFrame([r])).mark_text(text="1%", angle=int(r.a), fontSize=18.8, font=FONT, color="#c8c0b8", align="center", baseline="middle").encode(
        x=bx("x"), y=by("y")))
for x, y, a in GRT_TXT:
    layers.append(alt.Chart(pd.DataFrame([{"x": x, "y": y}])).mark_text(text="GRT 6.5%", angle=a, fontSize=18.8, font=FONT, color="black", align="center", baseline="middle").encode(
        x=bx("x"), y=by("y")))

# A, B, C
abc = pd.DataFrame(POINTS_ABC, columns=["x", "y"])
layers.append(alt.Chart(abc).mark_point(shape="circle", filled=True, fill="black", stroke="white", strokeWidth=2.8, size=170, opacity=1).encode(x=bx("x"), y=by("y")))
lt = pd.DataFrame(LETTERS, columns=["t", "x", "y"])
ltm = dict(fontSize=25, font=FONT, align="center", baseline="middle")
layers.append(alt.Chart(lt).mark_text(stroke="white", strokeWidth=6, strokeJoin="round", **ltm).encode(x=bx("x"), y=by("y"), text="t:N"))
layers.append(alt.Chart(lt).mark_text(fill="black", **ltm).encode(x=bx("x"), y=by("y"), text="t:N"))

# lower texts
tb = pd.DataFrame({"x": [4.79, 4.28], "y": [-.73, 12.52], "t": ["CHES survey bounds", "Twitter users spreading fake news by region of opinion space"]})
layers.append(alt.Chart(tb.iloc[[0]]).mark_text(fontSize=27.8, font=FONT, color="black", align="center", baseline="middle").encode(x=bx("x"), y=by("y"), text="t:N"))
layers.append(alt.Chart(tb.iloc[[1]]).mark_text(fontSize=27.2, font=FONT, color="black", align="center", baseline="middle").encode(x=bx("x"), y=by("y"), text="t:N"))

# frame + axes of lower panel
layers.append(alt.Chart(bgd).mark_rect(fillOpacity=0, stroke="#222222", strokeWidth=1.8).encode(
    x=bx("x0", ax(values=list(range(-4, 13, 2)), orient="bottom", offset=1404 - H, labelFontSize=23.5, titleFontSize=22.5,
                  title="CHES Left - Right", titlePadding=2, labelPadding=6)),
    x2="x1",
    y=by("y0", ax(values=list(range(0, 11, 2)), orient="left", offset=-70, labelFontSize=23.5, titleFontSize=22,
                  title="CHES Anti-élite salience", titlePadding=-1, labelPadding=8, labelOffset=1)),
    y2="y1"))

# lower colourbar
band = pd.DataFrame({"v0": [2.2 * i for i in range(19)], "c": BAND_COLORS})
band["v1"] = band.v0 + 2.2
band["x0"], band["x1"] = 0, 1
PY_DOM, PY_RNG = [0, 41.8], [1404, 900]
layers.append(alt.Chart(band).mark_rect(strokeWidth=0).encode(
    x=qx("x0", [0, 1], [783, 809]), x2="x1", y=qy("v0", PY_DOM, PY_RNG), y2="v1", fill=alt.Fill("c:N", scale=None)))
bf = pd.DataFrame({"v0": [0], "v1": [41.8], "x0": [0], "x1": [1]})
layers.append(alt.Chart(bf).mark_rect(fillOpacity=0, stroke="#222222", strokeWidth=1.8).encode(
    x=qx("x0", [0, 1], [783, 809]), x2="x1",
    y=qy("v0", PY_DOM, PY_RNG, ax(values=PCT_TICKS, orient="right", offset=809 - W, labelFontSize=23.5, titleFontSize=22.5, domain=False,
                                   labelExpr="format(datum.value,'.1f')+'%'", title="% of users spreading fake news", titlePadding=3,
                                   titleAngle=270, titleBaseline="top", labelPadding=7, labelOffset=1.5)),
    y2="v1"))

chart = (alt.layer(*layers)
         .resolve_scale(x="independent", y="independent", fill="independent", stroke="independent")
         .properties(width=W, height=H, padding=0, autosize=alt.AutoSizeParams(type="none"), background="white")
         .configure_view(strokeWidth=0))
chart.save("out.html", embed_options={"renderer": "svg", "actions": False})
